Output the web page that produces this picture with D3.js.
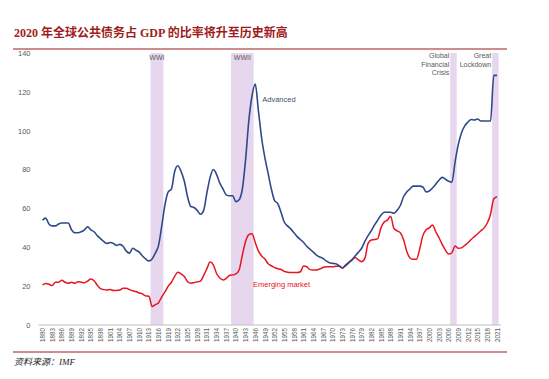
<!DOCTYPE html>
<html><head><meta charset="utf-8">
<script src="https://cdn.jsdelivr.net/npm/d3@7"></script>
<style>
html,body{margin:0;padding:0;background:#fff;}
svg{display:block;}
</style>
</head><body>
<svg id="chart" width="549" height="379"></svg>
<script>
const title = "2020 年全球公共债务占 GDP 的比率将升至历史新高";
const source = "资料来源：IMF";
const startYear = 1880;
const advanced = [
 54,55,52,51,51,52,52.5,52.5,52.5,49,
 47.5,47.5,48,49,50.5,49,48,46,44.5,43,
 42,42.5,42,41,41.5,40.5,38,37,39.5,38.5,
 37.5,35.5,34,33,34,37,41,51,62,68.5,
 70,79,82,79,74,66,61,60.5,59,57,
 59,68,76,80,77.5,73,70,67,66.5,66.5,
 63.5,64.5,70,85,105,118,124,110,96,86,
 78,70,64,62.5,58,53,51,49.5,47.5,45.5,
 44,42.5,40.5,39,37.5,36,35,34.3,33,32,
 31.7,31.5,30.5,29.5,30.5,32,33.5,35.5,37.5,39.5,
 43,46,48.5,51.5,54,56.5,58,58,58,57.5,
 59,61.5,66,68.5,70,71.5,71.5,71.5,71,68.5,
 69,70.5,72.5,74.5,76,75,74,73.5,84,93,
 99,102.5,104.5,105.8,105.5,106,105,105,105,105,
 128.5,128.5
];
const emerging = [
 20.6,21.4,21,20.3,22,22,23,22,21.5,22,
 21.5,22.2,22,21.8,22.6,23.7,22.8,20.5,18.7,18.2,
 18,18.3,17.7,17.8,18,18.9,18.9,18.2,17.6,17.2,
 16.5,16,15,14.8,9.5,10.5,11.5,14.5,17,20,
 22,25,27.2,26.3,25,22.3,21.5,21.8,22.2,22.6,
 25.5,29,32.4,31,26.5,24.2,23.2,24,25.5,25.8,
 26.3,28.3,36,43,46.5,47,42.5,38,35.5,34,
 31.5,30.5,29.5,29,28.6,27.6,27.2,27,27,27,
 27.4,30.4,30,28.5,28.3,28.3,28.8,29.6,30,30,
 30,30.2,30.4,29.2,30.9,32.3,33.5,34.8,33.5,32.6,
 34.3,42,43.8,44,44.5,50,53,54,56,49.8,
 48.5,47.5,44,38,34.5,33.8,33.8,39,46,49,
 50,51.5,48,45,41.5,38.5,36.5,37.2,40.6,39.5,
 39.7,41,42.3,44,45.5,47,48.5,50,52.5,57,
 65,66
];
const yTicks = [0,20,40,60,80,100,120,140];
const bandNames = [["WWI"],["WWII"],["Global","Financial","Crisis"],["Great","Lockdown"]];
const bandStart = [1914,1939,2007,2020];
const bandEnd = [1917,1945,2008,2021];
const seriesNames = ["Advanced","Emerging market"];

(function(){
const years = advanced.map((_, i) => startYear + i);
const xLabels = years.filter(yr => (yr - startYear) % 3 === 0);

const svg = d3.select("#chart");
const pLeft = 42.5, pRight = 497, pTop = 53, pBottom = 325;
const x = d3.scaleLinear().domain([startYear, years[years.length-1]]).range([pLeft, pRight]);
const y = d3.scaleLinear().domain([0, 140]).range([pBottom, pTop]);
const step = x(startYear + 1) - x(startYear);

// Title
svg.append("text").attr("x", 14).attr("y", 37)
  .attr("font-family", "'Liberation Serif','Noto Sans CJK SC',serif")
  .attr("font-weight", "bold").attr("font-size", 12)
  .attr("fill", "#9E1B20").text(title);
svg.append("line").attr("x1", 13).attr("x2", 507).attr("y1", 49).attr("y2", 49)
  .attr("stroke", "#9E1B20").attr("stroke-width", 1.2);

// Bands
const bands = bandStart.map((s, i) => ({s, e: bandEnd[i], names: bandNames[i]}));
svg.append("g").selectAll("rect").data(bands).join("rect")
  .attr("x", d => x(d.s) - step/2)
  .attr("width", d => x(d.e) - x(d.s) + step)
  .attr("y", y(140)).attr("height", y(0) - y(140))
  .attr("fill", "#E6D6EE");

// Band labels
const lab = svg.append("g").attr("font-family", "'Liberation Sans',Arial,sans-serif")
  .attr("font-size", 7).attr("fill", "#595959");
bands.forEach((d, i) => {
  if (i < 2) {
    lab.append("text").attr("x", (x(d.s) - step/2 + x(d.e) + step/2) / 2).attr("y", 59.5)
      .attr("text-anchor", "middle").text(d.names[0]);
  } else {
    d.names.forEach((n, k) => {
      lab.append("text").attr("x", x(d.s) - step/2 - 1).attr("y", 58 + k * 8.5)
        .attr("text-anchor", "end").text(n);
    });
  }
});

// Y axis
const yAxis = svg.append("g").attr("transform", `translate(${pLeft - 9},0)`)
  .call(d3.axisLeft(y).tickValues(yTicks).tickSize(0).tickFormat(d3.format("d")));
yAxis.select(".domain").remove();
yAxis.selectAll("text").attr("font-family", "'Liberation Sans',Arial,sans-serif")
  .attr("font-size", 7.5).attr("fill", "#595959").attr("dx", 0);

// X axis
const xAxis = svg.append("g").attr("transform", `translate(0,${pBottom})`)
  .call(d3.axisBottom(x).tickValues(xLabels).tickSize(0).tickFormat(d3.format("d")));
xAxis.select(".domain").attr("stroke", "#BFBFBF").attr("d", `M${pLeft - 4},0H${pRight + 4}`);
xAxis.selectAll("text").attr("font-family", "'Liberation Sans',Arial,sans-serif")
  .attr("font-size", 6.3).attr("fill", "#595959")
  .attr("transform", "rotate(-90)").attr("text-anchor", "end")
  .attr("x", -3).attr("y", 0).attr("dy", "0.33em");

// Lines
const line = d3.line().x((d, i) => x(years[i])).y(d => y(d)).curve(d3.curveMonotoneX);
svg.append("path").datum(emerging).attr("d", line).attr("fill", "none")
  .attr("stroke", "#E8141E").attr("stroke-width", 1.5);
svg.append("path").datum(advanced).attr("d", line).attr("fill", "none")
  .attr("stroke", "#2F4A8B").attr("stroke-width", 1.6);

// Series labels
svg.append("text").attr("x", x(1946) + 7).attr("y", y(115)).attr("font-family", "'Liberation Sans',Arial,sans-serif")
  .attr("font-size", 7.5).attr("fill", "#44546A").text(seriesNames[0]);
svg.append("text").attr("x", x(1945) + 1).attr("y", y(19.8)).attr("font-family", "'Liberation Sans',Arial,sans-serif")
  .attr("font-size", 7.5).attr("fill", "#E8141E").text(seriesNames[1]);

// Bottom rule & source
svg.append("line").attr("x1", 13).attr("x2", 507).attr("y1", 352).attr("y2", 352)
  .attr("stroke", "#9E1B20").attr("stroke-width", 1.2);
svg.append("text").attr("x", 14).attr("y", 365)
  .attr("font-family", "'Liberation Serif','Noto Sans CJK SC',serif")
  .attr("font-style", "italic").attr("font-size", 9).attr("fill", "#222")
  .text(source);
})();
</script>
</body></html>
